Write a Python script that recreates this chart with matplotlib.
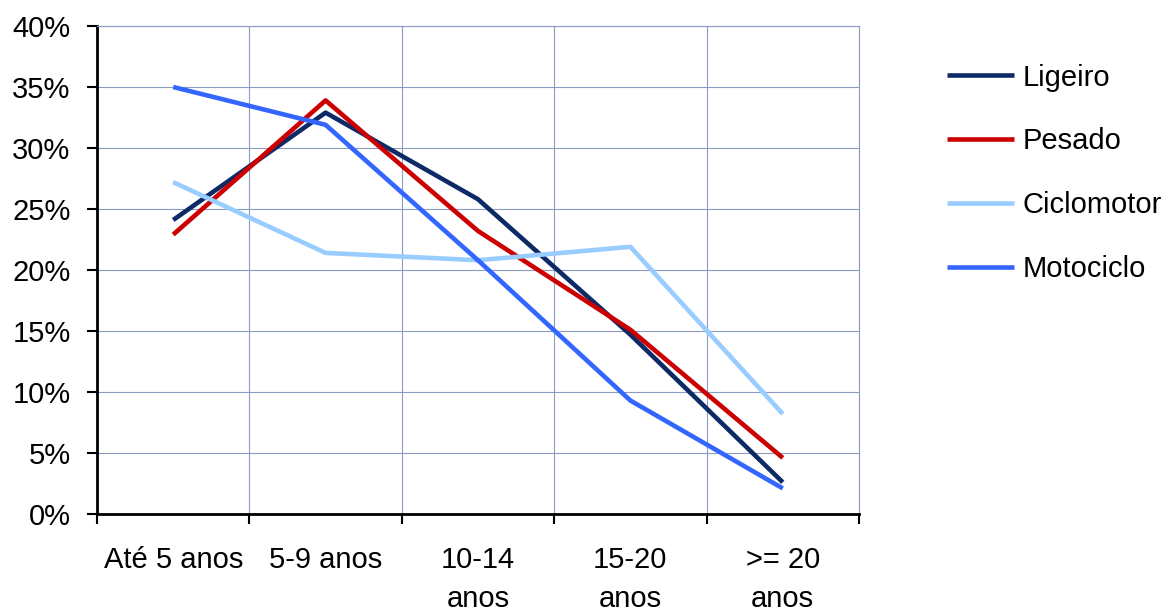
import numpy as np
import matplotlib
matplotlib.use("Agg")
from matplotlib import pyplot as plt
from matplotlib.ticker import FixedLocator, PercentFormatter

plt.rcParams['font.family'] = ['Liberation Sans', 'DejaVu Sans']

categories = ["Até 5 anos", "5-9 anos", "10-14\nanos", "15-20\nanos", ">= 20\nanos"]
ligeiro = [24.1, 32.9, 25.8, 14.7, 2.6]
pesado = [22.9, 33.9, 23.2, 15.1, 4.6]
ciclomotor = [27.2, 21.4, 20.8, 21.9, 8.2]
motociclo = [35.0, 31.9, 20.8, 9.3, 2.1]

series = [
    ("Ligeiro", ligeiro, "#0c2a66"),
    ("Pesado", pesado, "#cc0000"),
    ("Ciclomotor", ciclomotor, "#99ccff"),
    ("Motociclo", motociclo, "#3366ff"),
]

fig = plt.figure(figsize=(11.72, 6.11), dpi=100)
ax = fig.add_axes([97 / 1172, 1 - 514 / 611, (859 - 97) / 1172, (514 - 26) / 611])

x = np.arange(len(categories)) + 0.5
for name, vals, col in series:
    ax.plot(x, vals, color=col, lw=3.3, label=name, solid_capstyle='butt', zorder=3)

ax.set_xlim(0, len(categories))
ax.set_ylim(0, 40)
ax.set_yticks(np.arange(0, 41, 5))
ax.yaxis.set_major_formatter(PercentFormatter(decimals=0))

ax.xaxis.set_major_locator(FixedLocator(np.arange(len(categories) + 1)))
ax.xaxis.set_minor_locator(FixedLocator(x))
ax.set_xticklabels([])
ax.set_xticklabels(categories, minor=True, fontsize=21, linespacing=1.5, va='top')
ax.tick_params(axis='x', which='minor', length=0, pad=23)
ax.tick_params(axis='x', which='major', length=7, width=1.5, direction='out')
ax.tick_params(axis='y', length=7, width=1.5, direction='out', labelsize=21, pad=12)

ax.grid(True, which='major', color='#8d9bc2', lw=0.8)
ax.set_axisbelow(True)
for side in ['top', 'right']:
    ax.spines[side].set_color('#8d9bc2')
    ax.spines[side].set_linewidth(0.8)
for side in ['left', 'bottom']:
    ax.spines[side].set_color('black')
    ax.spines[side].set_linewidth(2)

ax.legend(loc='upper left', bbox_to_anchor=(1.1, 0.947), frameon=False, fontsize=21,
          handlelength=2.3, handletextpad=0.3, labelspacing=1.23, borderaxespad=0)

fig.savefig("out.png", dpi=100)
